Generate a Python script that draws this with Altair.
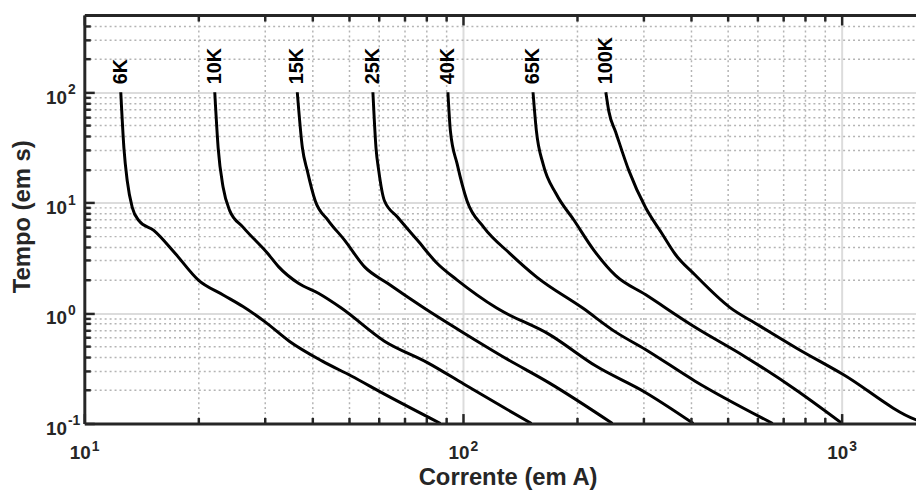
import altair as alt
import pandas as pd

FONT = "Liberation Sans"
INK = "#262626"

ratings = ["6K", "10K", "15K", "25K", "40K", "65K", "100K"]

cur_6K = [12.48, 12.72, 12.98, 13.38, 13.93, 15.25, 17.38, 20.0, 23.26, 26.24, 29.9, 34.76, 42.5, 50.7, 62.0, 87.2]
t_6K = [100, 31.4, 15.8, 9.08, 6.89, 5.60, 3.46, 1.99, 1.46, 1.146, 0.84, 0.556, 0.367, 0.269, 0.1845, 0.1]

cur_10K = [22.1, 22.56, 23.26, 24.2, 26.24, 30.5, 32.6, 36.76, 41.5, 47.7, 62.0, 80.5, 100.4, 127.8, 151.6]
t_10K = [100, 31.4, 13.7, 8.47, 6.0, 3.46, 2.62, 1.86, 1.51, 1.11, 0.556, 0.356, 0.228, 0.140, 0.1]

cur_15K = [36.5, 37.65, 38.8, 40.7, 44.06, 48.7, 54.95, 63.2, 78.9, 100.4, 127.8, 169.2, 248]
t_15K = [100, 31.4, 19.4, 10.4, 6.89, 4.56, 2.62, 1.86, 1.11, 0.66, 0.40, 0.232, 0.1]

cur_25K = [57.8, 58.9, 59.9, 62.0, 67.2, 75.8, 85.5, 96.5, 122.7, 169.2, 224.3, 303, 405.5]
t_25K = [100, 31.4, 19.4, 10.4, 7.38, 4.56, 2.81, 1.99, 1.11, 0.638, 0.331, 0.191, 0.1]

cur_40K = [91.2, 92.6, 96.5, 102.4, 113.3, 133, 156.2, 207, 253, 303, 410, 657]
t_40K = [100, 44.4, 22.3, 10.4, 6.0, 3.46, 2.13, 1.11, 0.672, 0.468, 0.2415, 0.1]

cur_65K = [153, 156.2, 162.7, 176.2, 196.5, 221.6, 253, 303, 410, 554, 749, 1002]
t_65K = [100, 44.4, 22.3, 11.97, 6.89, 3.70, 2.18, 1.47, 0.744, 0.405, 0.2063, 0.1]

cur_100K = [238.2, 242.6, 253, 274.2, 303, 335.3, 363.3, 410, 506, 600, 762, 1006, 1574, 1680]
t_100K = [100, 67.1, 43.5, 19.4, 9.08, 5.23, 3.41, 2.21, 1.127, 0.785, 0.478, 0.279, 0.1077, 0.1]

series = {
    "6K": (cur_6K, t_6K),
    "10K": (cur_10K, t_10K),
    "15K": (cur_15K, t_15K),
    "25K": (cur_25K, t_25K),
    "40K": (cur_40K, t_40K),
    "65K": (cur_65K, t_65K),
    "100K": (cur_100K, t_100K),
}

x_major = [10, 100, 1000]
x_minor = [20, 30, 40, 50, 60, 70, 80, 90, 200, 300, 400, 500, 600, 700, 800, 900]
y_major = [0.1, 1, 10, 100]
y_minor = [0.2, 0.3, 0.4, 0.5, 0.6, 0.7, 0.8, 0.9, 2, 3, 4, 5, 6, 7, 8, 9,
           20, 30, 40, 50, 60, 70, 80, 90, 200, 300, 400]

x_domain = [10, 1570]
y_domain = [0.1, 500]

rows = []
for name in ratings:
    cur, tt = series[name]
    for i, (c, t) in enumerate(zip(cur, tt)):
        rows.append({"fuse": name, "I": c, "t": t, "k": i})
df = pd.DataFrame(rows)
lab = pd.DataFrame({"fuse": ratings,
                    "I": [series[n][0][0] for n in ratings],
                    "t": [series[n][1][0] for n in ratings]})

xs = alt.Scale(type="log", domain=x_domain, nice=False)
ys = alt.Scale(type="log", domain=y_domain, nice=False)

EXP = "'' + round(log(datum.value) / LN10)"


def ax(**kw):
    base = dict(grid=False, domain=False, ticks=False, labels=False, title="")
    base.update(kw)
    return alt.Axis(**base)


lab_style = dict(labelFont=FONT, labelFontWeight="bold", labelColor=INK, labelFlush=False,
                 labelOverlap=False, labels=True)

x_axes = [
    ax(orient="bottom", values=x_major, grid=True, gridColor="#dcdcdc", gridWidth=2, zindex=0),
    ax(orient="bottom", values=x_minor, grid=True, gridColor="#b4b4b4", gridWidth=1.5,
       gridDash=[2, 3], zindex=0),
    ax(orient="bottom", values=x_major, domain=True, domainColor=INK, domainWidth=3,
       labelExpr="'10'", labelAlign="right", labelOffset=6, labelBaseline="alphabetic",
       labelPadding=35, labelFontSize=19, zindex=1,
       title="Corrente (em A)", titleFont=FONT, titleFontSize=24, titleFontWeight="bold",
       titleColor=INK, titleX=427, titleY=62, titleAlign="center", titleBaseline="alphabetic",
       **lab_style),
    ax(orient="bottom", values=x_major, labelExpr=EXP, labelAlign="left", labelOffset=7,
       labelBaseline="alphabetic", labelPadding=27, labelFontSize=14, zindex=1, **lab_style),
    ax(orient="bottom", values=x_major, ticks=True, tickSize=10, offset=-10, tickColor=INK,
       tickWidth=2.5, zindex=1),
    ax(orient="bottom", values=x_minor, ticks=True, tickSize=6, offset=-6, tickColor=INK,
       tickWidth=2.5, zindex=1),
    ax(orient="top", values=x_major, domain=True, domainColor=INK, domainWidth=3, zindex=1),
    ax(orient="top", values=x_major, ticks=True, tickSize=10, offset=-10, tickColor=INK,
       tickWidth=2.5, zindex=1),
    ax(orient="top", values=x_minor, ticks=True, tickSize=6, offset=-6, tickColor=INK,
       tickWidth=2.5, zindex=1),
]

y_axes = [
    ax(orient="left", values=y_major, grid=True, gridColor="#dcdcdc", gridWidth=2, zindex=0),
    ax(orient="left", values=y_minor, grid=True, gridColor="#b4b4b4", gridWidth=1.5,
       gridDash=[2, 3], zindex=0),
    ax(orient="left", values=y_major, domain=True, domainColor=INK, domainWidth=3,
       labelExpr="'10'", labelAlign="right", labelPadding=18, labelOffset=11,
       labelBaseline="alphabetic", labelFontSize=19, zindex=1,
       title="Tempo (em s)", titleFont=FONT, titleFontSize=24, titleFontWeight="bold",
       titleColor=INK, titleX=-55, titleY=203, titleAngle=270, titleAlign="center",
       titleBaseline="alphabetic", **lab_style),
    ax(orient="left", values=y_major, labelExpr=EXP, labelAlign="left", labelPadding=17,
       labelOffset=1.5, labelBaseline="alphabetic", labelFontSize=14, zindex=1,
       **lab_style),
    ax(orient="left", values=y_major, ticks=True, tickSize=10, offset=-10, tickColor=INK,
       tickWidth=2.5, zindex=1),
    ax(orient="left", values=y_minor, ticks=True, tickSize=6, offset=-6, tickColor=INK,
       tickWidth=2.5, zindex=1),
]

layers = []
curves = alt.Chart(df).mark_line(color="black", strokeWidth=3, interpolate="monotone",
                                 clip=True).encode(
    x=alt.X("I:Q", scale=xs, axis=x_axes[0]),
    y=alt.Y("t:Q", scale=ys, axis=y_axes[0]),
    detail="fuse:N",
    order="k:Q",
)
layers.append(curves)

for i in range(1, len(x_axes)):
    if i < len(y_axes):
        yenc = alt.Y("t:Q", scale=ys, axis=y_axes[i])
    else:
        yenc = alt.Y("t:Q", scale=ys, axis=None)
    layers.append(
        alt.Chart(lab).mark_point(opacity=0).encode(
            x=alt.X("I:Q", scale=xs, axis=x_axes[i]),
            y=yenc,
        )
    )

texts = alt.Chart(lab).mark_text(angle=270, align="left", baseline="middle", dx=8,
                                 font=FONT, fontSize=20, fontWeight="bold",
                                 color="black").encode(
    x=alt.X("I:Q", scale=xs, axis=None),
    y=alt.Y("t:Q", scale=ys, axis=None),
    text="fuse:N",
)
layers.append(texts)

chart = alt.layer(*layers).resolve_axis(x="independent", y="independent").properties(
    width=839, height=412,
    autosize=alt.AutoSizeParams(type="none"),
    padding={"left": 77, "top": 5, "right": 0, "bottom": 68},
    background="white",
).configure_view(strokeOpacity=0)

chart.save("out.html", embed_options={"renderer": "svg", "actions": False})
